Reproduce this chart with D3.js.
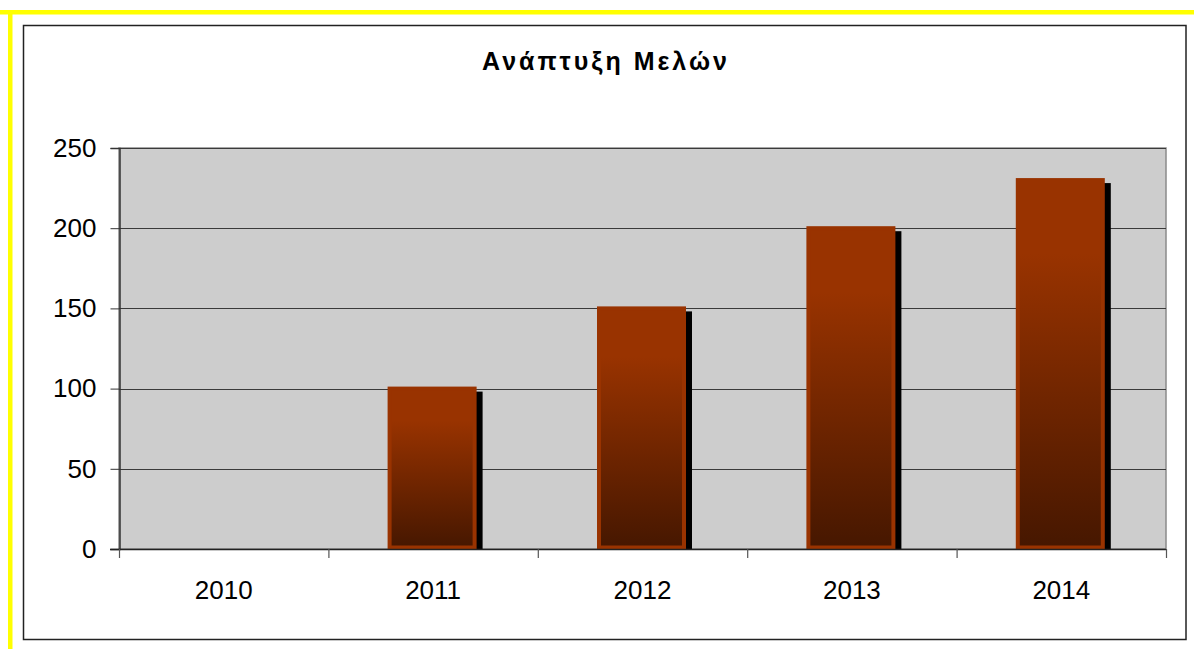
<!DOCTYPE html>
<html>
<head>
<meta charset="utf-8">
<script src="https://cdn.jsdelivr.net/npm/d3@7"></script>
<style>
  body { margin: 0; background: #ffffff; }
  svg { display: block; }
  text { font-family: "Liberation Sans", Arial, sans-serif; fill: #000; }
</style>
</head>
<body>
<svg id="chart"></svg>
<script>
var years = ["2010", "2011", "2012", "2013", "2014"]
var members = [0, 100, 150, 200, 230]
var yTicks = [0, 50, 100, 150, 200, 250]
var title = "Ανάπτυξη Μελών"

var screen = {width: 1194, height: 649}
var plot = {left: 119, top: 148, right: 1166, bottom: 549}

var svg = d3.select("#chart")
    .attr("width", screen.width)
    .attr("height", screen.height)

// yellow frame bits (top and left only)
svg.append("rect").attr("x", 0).attr("y", 10).attr("width", screen.width).attr("height", 4.5).attr("fill", "#ffff00")
svg.append("rect").attr("x", 8).attr("y", 10).attr("width", 4.5).attr("height", screen.height - 10).attr("fill", "#ffff00")

// chart area border
svg.append("rect")
    .attr("x", 23.5).attr("y", 25.5)
    .attr("width", 1162.5).attr("height", 614)
    .attr("fill", "#ffffff")
    .attr("stroke", "#222")
    .attr("stroke-width", 1.5)

var defs = svg.append("defs")
var grad = defs.append("linearGradient")
    .attr("id", "barGrad")
    .attr("x1", 0).attr("y1", 0).attr("x2", 0).attr("y2", 1)
grad.append("stop").attr("offset", 0).attr("stop-color", "#993300")
grad.append("stop").attr("offset", 0.2).attr("stop-color", "#993300")
grad.append("stop").attr("offset", 1).attr("stop-color", "#461700")

var xScale = d3.scaleBand()
    .domain(years)
    .range([plot.left, plot.right])

var yScale = d3.scaleLinear()
    .domain([0, 250])
    .range([plot.bottom, plot.top])

// plot area
svg.append("rect")
    .attr("x", plot.left).attr("y", plot.top)
    .attr("width", plot.right - plot.left)
    .attr("height", plot.bottom - plot.top)
    .attr("fill", "#cdcdcd")
    .attr("stroke", "#8a8a8a")
    .attr("stroke-width", 1.5)

// gridlines
svg.append("g")
    .selectAll("line")
    .data(yTicks.filter(function(d) { return d > 0 }))
    .enter()
    .append("line")
    .attr("x1", plot.left).attr("x2", plot.right)
    .attr("y1", function(d) { return Math.round(yScale(d)) + 0.5 })
    .attr("y2", function(d) { return Math.round(yScale(d)) + 0.5 })
    .attr("stroke", "#3a3a3a")
    .attr("stroke-width", 1)

var data = years.map(function(y, i) { return {year: y, v: members[i]} })
var barW = 85

// shadows
svg.append("g")
    .selectAll("rect")
    .data(data.filter(function(d) { return d.v > 0 }))
    .enter()
    .append("rect")
    .attr("x", function(d) { return xScale(d.year) + xScale.bandwidth() / 2 - barW / 2 + 7 })
    .attr("y", function(d) { return yScale(d.v) + 3 })
    .attr("width", barW)
    .attr("height", function(d) { return yScale(0) - yScale(d.v) - 3 })
    .attr("fill", "#000")

// bars
svg.append("g")
    .selectAll("rect")
    .data(data.filter(function(d) { return d.v > 0 }))
    .enter()
    .append("rect")
    .attr("x", function(d) { return xScale(d.year) + xScale.bandwidth() / 2 - barW / 2 - 1 })
    .attr("y", function(d) { return yScale(d.v) })
    .attr("width", barW)
    .attr("height", function(d) { return yScale(0) - yScale(d.v) - 1.5 })
    .attr("fill", "url(#barGrad)")
    .attr("stroke", "#993300")
    .attr("stroke-width", 4)

// axes
var yAxis = d3.axisLeft(yScale).tickValues(yTicks).tickSize(9).tickPadding(14)
svg.append("g")
    .attr("transform", "translate(" + (plot.left + 0.5) + ",0)")
    .call(yAxis)
    .call(function(g) {
        g.select(".domain").attr("stroke", "#333").attr("stroke-width", 1.5)
        g.selectAll(".tick line").attr("stroke", "#333")
        g.selectAll(".tick text").style("font-size", "26px").attr("fill", "#000")
    })

svg.append("line")
    .attr("x1", plot.left - 9).attr("x2", plot.right)
    .attr("y1", plot.bottom + 0.5).attr("y2", plot.bottom + 0.5)
    .attr("stroke", "#222").attr("stroke-width", 1.5)

// category boundary ticks
svg.append("g")
    .selectAll("line")
    .data(d3.range(years.length + 1))
    .enter()
    .append("line")
    .attr("x1", function(i) { return plot.left + i * xScale.bandwidth() + 0.5 })
    .attr("x2", function(i) { return plot.left + i * xScale.bandwidth() + 0.5 })
    .attr("y1", plot.bottom).attr("y2", plot.bottom + 9)
    .attr("stroke", "#555").attr("stroke-width", 1.2)

svg.append("g")
    .selectAll("text")
    .data(years)
    .enter()
    .append("text")
    .attr("x", function(d) { return xScale(d) + xScale.bandwidth() / 2 })
    .attr("y", 599)
    .attr("text-anchor", "middle")
    .style("font-size", "26px")
    .text(function(d) { return d })

// title
svg.append("text")
    .attr("x", 606)
    .attr("y", 70)
    .attr("text-anchor", "middle")
    .style("font-size", "25px")
    .style("font-weight", "bold")
    .style("letter-spacing", "3px")
    .text(title)
</script>
</body>
</html>
